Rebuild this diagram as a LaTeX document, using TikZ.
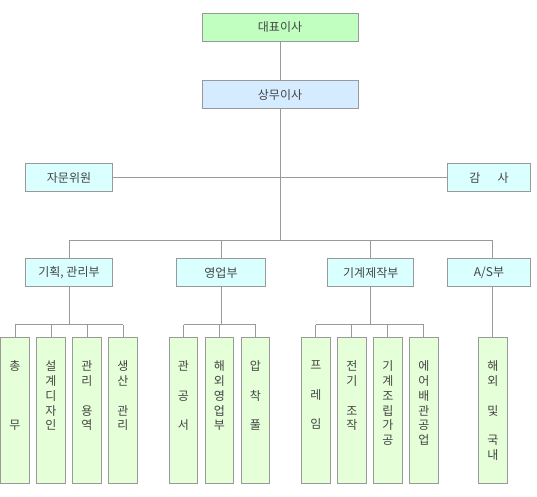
\documentclass[tikz,border=0pt]{standalone}
\usepackage{fontspec}
\setmainfont{Noto Sans CJK KR}
\definecolor{linegray}{HTML}{999999}
\definecolor{txtgray}{HTML}{444444}
\definecolor{ceofill}{HTML}{C0FFC0}
\definecolor{vpfill}{HTML}{D5EBFF}
\definecolor{cyanfill}{HTML}{DAFFFF}
\definecolor{subfill}{HTML}{E5FFD8}
\begin{document}
\begin{tikzpicture}[x=1pt,y=-1pt,
  box/.style={draw=linegray, line width=1pt, inner sep=0pt, text=txtgray,
    font=\fontsize{12}{14.7}\selectfont},
  topbox/.style={box, minimum width=156pt, minimum height=28pt},
  deptbox/.style={box, fill=cyanfill, minimum height=28pt},
  subbox/.style={box, fill=subfill, minimum width=28.4pt, minimum height=146pt},
  vtext/.style={inner sep=0pt, text=txtgray, align=center, anchor=north,
    font=\fontsize{12}{14.7}\selectfont},
  conn/.style={draw=linegray, line width=1pt}]
\useasboundingbox (0,0) rectangle (537,496);

% top levels
\node[topbox, fill=ceofill] (ceo) at (280,27) {대표이사};
\node[topbox, fill=vpfill] (vp) at (280,94.8) {상무이사};
\node[deptbox, minimum width=86.4pt] (adv) at (69,177.8) {자문위원};
\node[deptbox, minimum width=83pt] (aud) at (489,177.8) {감\hspace{17pt}사};

% departments
\node[deptbox, minimum width=86.4pt] (plan) at (69,272.8) {기획, 관리부};
\node[deptbox, minimum width=89pt] (sales) at (221,272.8) {영업부};
\node[deptbox, minimum width=86pt] (mach) at (370.8,272.8) {기계제작부};
\node[deptbox, minimum width=83pt] (as) at (489,272.8) {A/S부};

% sub boxes
\node[subbox] (s1) at (15,410.8) {};
\node[subbox] (s2) at (51,410.8) {};
\node[subbox] (s3) at (87,410.8) {};
\node[subbox] (s4) at (123,410.8) {};
\node[subbox] (s5) at (183.5,410.8) {};
\node[subbox] (s6) at (219.5,410.8) {};
\node[subbox] (s7) at (255.5,410.8) {};
\node[subbox] (s8) at (315.8,410.8) {};
\node[subbox] (s9) at (351.8,410.8) {};
\node[subbox] (s10) at (387.8,410.8) {};
\node[subbox] (s11) at (423.8,410.8) {};
\node[subbox] (s12) at (492.8,410.8) {};

% vertical texts
\node[vtext] (t1) at ([yshift=-23.5pt]s1.north) {총\\\mbox{}\\\mbox{}\\\mbox{}\\무};
\node[vtext] (t2) at ([yshift=-23.5pt]s2.north) {설\\계\\디\\자\\인};
\node[vtext] (t3) at ([yshift=-23.5pt]s3.north) {관\\리\\\mbox{}\\용\\역};
\node[vtext] (t4) at ([yshift=-23.5pt]s4.north) {생\\산\\\mbox{}\\관\\리};
\node[vtext] (t5) at ([yshift=-23.5pt]s5.north) {관\\\mbox{}\\공\\\mbox{}\\서};
\node[vtext] (t6) at ([yshift=-23.5pt]s6.north) {해\\외\\영\\업\\부};
\node[vtext] (t7) at ([yshift=-23.5pt]s7.north) {압\\\mbox{}\\착\\\mbox{}\\풀};
\node[vtext] (t8) at ([yshift=-23.5pt]s8.north) {프\\\mbox{}\\레\\\mbox{}\\임};
\node[vtext] (t9) at ([yshift=-23.5pt]s9.north) {전\\기\\\mbox{}\\조\\작};
\node[vtext] (t10) at ([yshift=-23.5pt]s10.north) {기\\계\\조\\립\\가\\공};
\node[vtext] (t11) at ([yshift=-23.5pt]s11.north) {에\\어\\배\\관\\공\\업};
\node[vtext] (t12) at ([yshift=-23.5pt]s12.north) {해\\외\\\mbox{}\\및\\\mbox{}\\국\\내};

% bus coordinates
\coordinate (bus) at (0,240.7);
\coordinate (sbus) at (0,324.7);

% connectors
\draw[conn] (ceo.south) -- (vp.north);
\draw[conn] (vp.south) -- (vp.south |- bus);
\draw[conn] (adv.east) -- (aud.west);
\draw[conn] (plan.north |- bus) -- (s12.north |- bus);
\draw[conn] (plan.north) -- (plan.north |- bus);
\draw[conn] (sales.north) -- (sales.north |- bus);
\draw[conn] (mach.north) -- (mach.north |- bus);
\draw[conn] (s12.north |- as.north) -- (s12.north |- bus);

% sub buses
\draw[conn] (plan.south) -- (plan.south |- sbus);
\draw[conn] (s1.north |- sbus) -- (s4.north |- sbus);
\foreach \s in {s1,s2,s3,s4} \draw[conn] (\s.north) -- (\s.north |- sbus);
\draw[conn] (sales.south) -- (sales.south |- sbus);
\draw[conn] (s5.north |- sbus) -- (s7.north |- sbus);
\foreach \s in {s5,s6,s7} \draw[conn] (\s.north) -- (\s.north |- sbus);
\draw[conn] (mach.south) -- (mach.south |- sbus);
\draw[conn] (s8.north |- sbus) -- (s11.north |- sbus);
\foreach \s in {s8,s9,s10,s11} \draw[conn] (\s.north) -- (\s.north |- sbus);
\draw[conn] (s12.north) -- (s12.north |- as.south);
\end{tikzpicture}
\end{document}
